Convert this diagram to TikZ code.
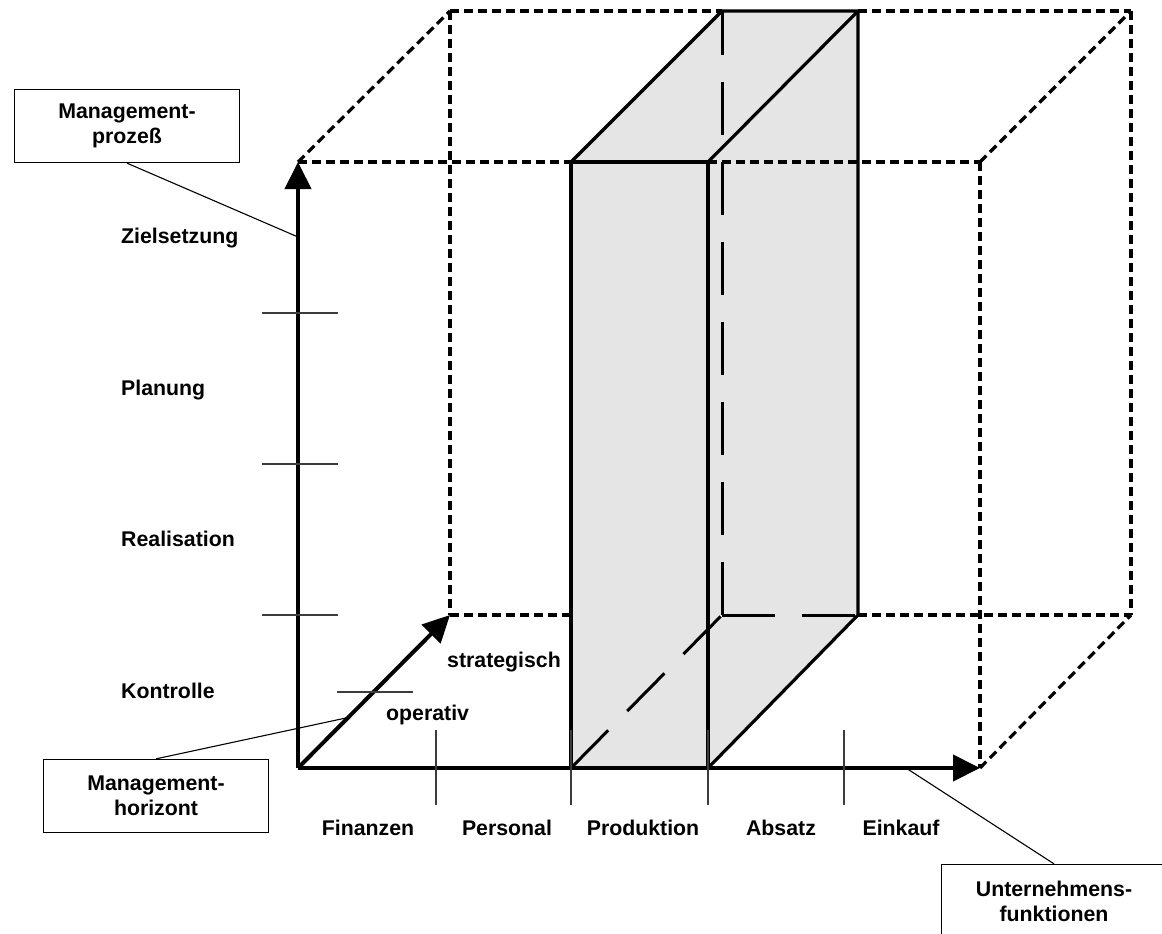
\documentclass[tikz,border=0pt]{standalone}
\usepackage{fontspec}
\setmainfont{Liberation Sans}
\usetikzlibrary{arrows.meta,positioning,calc}
\definecolor{slabgray}{RGB}{229,229,229}
\definecolor{tickgray}{RGB}{60,60,60}
\tikzset{
    axis/.style={draw, line width=4pt, -{Triangle[length=27pt,width=26pt]}},
    cubeline/.style={draw, line width=3.2pt, dash pattern=on 9pt off 5pt},
    hidden/.style={draw, line width=3pt, dash pattern=on 53pt off 27pt},
    slab/.style={draw, line width=3.2pt, line join=miter},
    tickline/.style={draw, tickgray, line width=1.3pt},
    infobox/.style={rectangle, draw, line width=1.3pt, fill=white, minimum width=225pt, minimum height=73pt, align=center, inner sep=0pt},
    pointer/.style={draw, line width=1.1pt},
    lbl/.style={inner sep=0pt}
}

\begin{document}
\begin{tikzpicture}[x=1pt, y=-1pt, font=\fontsize{21.3pt}{25pt}\selectfont\bfseries]
    \useasboundingbox (0,0) rectangle (1162,934);
    \clip (0,0) rectangle (1162,934);

    % Corners of the cube
    \coordinate (O) at (298,768);
    \coordinate (Y) at (298,162);
    \coordinate (X) at (980,768);
    \coordinate (XY) at (980,162);
    \coordinate (Z) at (450,615);
    \coordinate (ZY) at (450,11);
    \coordinate (ZX) at (1131,615);
    \coordinate (ZXY) at (1131,11);

    % Corners of the slab
    \coordinate (p1) at (571,768);
    \coordinate (p2) at (708,768);
    \coordinate (p3) at (571,162);
    \coordinate (p4) at (708,162);
    \coordinate (p5) at (722,11);
    \coordinate (p6) at (858,11);
    \coordinate (p7) at (722,615);
    \coordinate (p8) at (858,615);

    % Slab
    \path [fill=slabgray] (p1) -- (p3) -- (p5) -- (p6) -- (p8) -- (p2) -- cycle;
    \path [hidden] (p7) -- (p5);
    \path [hidden] (p7) -- (p8);
    \path [hidden] (p1) -- (p7);
    \path [slab] (p1) -- (p3) -- (p4) -- (p2);
    \path [slab] (p3) -- (p5) -- (p6) -- (p4);
    \path [slab] (p6) -- (p8) -- (p2);

    % Dashed cube edges
    \path [cubeline] (Y) -- (p3);
    \path [cubeline] (p4) -- (XY);
    \path [cubeline] (ZY) -- (p5);
    \path [cubeline] (p6) -- (ZXY);
    \path [cubeline] (Z) -- (Z -| p1);
    \path [cubeline] (p8) -- (ZX);
    \path [cubeline] (ZY) -- (Z);
    \path [cubeline] (ZXY) -- (ZX);
    \path [cubeline] (XY) -- (X);
    \path [cubeline] (Y) -- (ZY);
    \path [cubeline] (XY) -- (ZXY);
    \path [cubeline] (X) -- (ZX);

    % Axes
    \path [axis] (O) -- (Y);
    \path [axis] (O) -- (X);
    \path [axis] (O) -- (Z);

    % Ticks
    \foreach \yy in {313,464,615}
        \path [tickline] (262,\yy) -- (338,\yy);
    \path [tickline] (337,692) -- (413,692);
    \foreach \xx in {436,571,708,844}
        \path [tickline] (\xx,730) -- (\xx,805);

    % Axis labels
    \node [lbl, anchor=base west] (ziel) at (121,243) {Zielsetzung};
    \node [lbl, anchor=base west] (plan) at (121,395) {Planung};
    \node [lbl, anchor=base west] (real) at (121,546) {Realisation};
    \node [lbl, anchor=base west] (kontr) at (121,698) {Kontrolle};
    \node [lbl, anchor=base west] (strat) at (447,667) {strategisch};
    \node [lbl, anchor=base west] (oper) at (386,720) {operativ};
    \node [lbl, anchor=base] (fin) at (368,835) {Finanzen};
    \node [lbl, anchor=base] (pers) at (507,835) {Personal};
    \node [lbl, anchor=base] (prod) at (643,835) {Produktion};
    \node [lbl, anchor=base] (abs) at (781,835) {Absatz};
    \node [lbl, anchor=base] (eink) at (901,835) {Einkauf};

    % Boxes with pointers
    \coordinate (pa) at (298,237);
    \coordinate (ha) at ($(O)!0.33!(Z)$);
    \coordinate (fa) at (906,768);
    \node [infobox] (prozess) at (127,126) {Management-\\prozeß};
    \node [infobox] (horizont) at (156,796) {Management-\\horizont};
    \node [infobox] (funktionen) at (1054,901) {Unternehmens-\\funktionen};
    \path [pointer] (prozess.south) -- (pa);
    \path [pointer] (horizont.north) -- (ha);
    \path [pointer] (funktionen.north) -- (fa);
\end{tikzpicture}
\end{document}
